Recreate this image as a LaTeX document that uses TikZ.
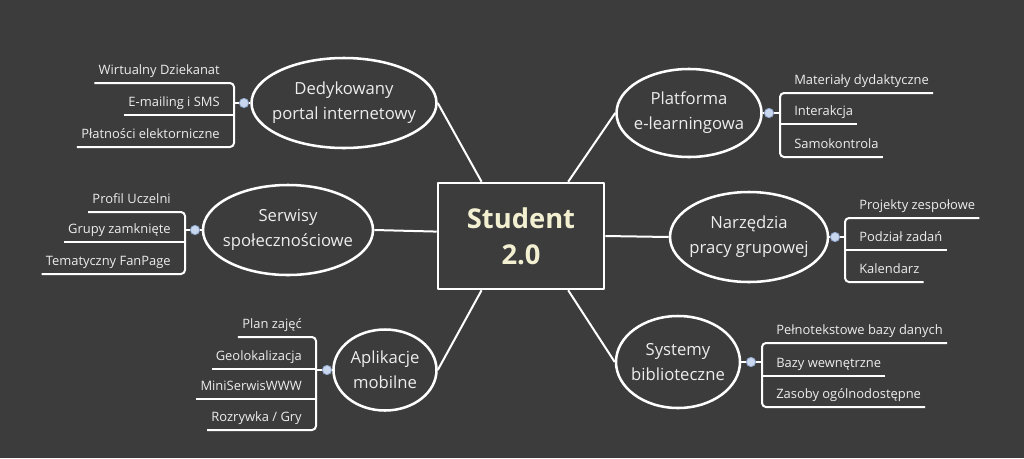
\documentclass[tikz,border=0pt]{standalone}
\usepackage{fontspec}
\setmainfont{Open Sans}
\usetikzlibrary{shapes.geometric}
\definecolor{bgdark}{HTML}{3C3C3C}
\definecolor{fgtext}{HTML}{EDEDED}
\definecolor{cream}{HTML}{F3F0D2}
\definecolor{knobfill}{HTML}{C9D7EE}
\definecolor{knobedge}{HTML}{8FA6CC}
\begin{document}
\begin{tikzpicture}[x=0.75pt, y=-0.75pt, line join=round,
    topic/.style={ellipse, draw=white, line width=1.9pt, inner xsep=-40pt, inner ysep=-20pt, text=fgtext, align=center, font=\fontsize{12.5}{18.75}\selectfont},
    leaf/.style={inner xsep=3pt, inner ysep=0pt, text=fgtext, text depth=6.4pt, font=\fontsize{9.7}{11}\selectfont},
    link/.style={draw=white, line width=1.5pt},
    branch/.style={draw=white, line width=1.5pt, rounded corners=3pt},
    knob/.style={circle, fill=knobfill, draw=knobedge, line width=0.6pt, minimum size=7pt, inner sep=0pt}]
    \fill[bgdark] (0,0) rectangle (1024,458);

    % Centrum
    \node[draw=white, line width=1.9pt, minimum width=124.5pt, minimum height=79.5pt, text=cream, align=center, font=\bfseries\fontsize{20.5}{27}\selectfont] (student) at (521,236) {Student\\2.0};

    % Tematy
    \node[topic, minimum width=138.75pt, minimum height=67.5pt] (ded) at (344,103) {Dedykowany\\portal internetowy};
    \node[topic, minimum width=127.5pt, minimum height=67.5pt] (ser) at (288,230) {Serwisy\\społecznościowe};
    \node[topic, minimum width=77.25pt, minimum height=60.75pt] (apl) at (385,370) {Aplikacje\\mobilne};
    \node[topic, minimum width=108.75pt, minimum height=66pt] (pla) at (689,113) {Platforma\\e-learningowa};
    \node[topic, minimum width=118.5pt, minimum height=67.5pt] (nar) at (749,237) {Narzędzia\\pracy grupowej};
    \node[topic, minimum width=93pt, minimum height=69pt] (sys) at (678,362) {Systemy\\biblioteczne};

    \draw[link] (ded.east) -- (student.126);
    \draw[link] (ser.east) -- (student.177);
    \draw[link] (apl.east) -- (student.234);
    \draw[link] (pla.west) -- (student.49);
    \draw[link] (nar.west) -- (student.east);
    \draw[link] (sys.west) -- (student.311);

    % Dedykowany portal
    \coordinate (dedbar) at (234,103);
    \node[knob] (dedknob) at (244,103) {};
    \node[leaf, anchor=south east] (ded1) at (224,83) {Wirtualny Dziekanat};
    \node[leaf, anchor=south east] (ded2) at (224,115) {E-mailing i SMS};
    \node[leaf, anchor=south east] (ded3) at (224,147) {Płatności elektorniczne};
    \draw[branch] (ded1.south west) -- (ded1.south -| dedbar) -- (ded3.south -| dedbar) -- (ded3.south west);
    \draw[branch] (ded2.south west) -- (ded2.south -| dedbar);
    \draw[link] (dedknob.west) -- (dedbar);
    \draw[link] (dedknob.east) -- (ded.west);

    % Serwisy
    \coordinate (serbar) at (185,230);
    \node[knob] (serknob) at (195,230) {};
    \node[leaf, anchor=south east] (ser1) at (175,212) {Profil Uczelni};
    \node[leaf, anchor=south east] (ser2) at (175,242) {Grupy zamknięte};
    \node[leaf, anchor=south east] (ser3) at (175,274) {Tematyczny FanPage};
    \draw[branch] (ser1.south west) -- (ser1.south -| serbar) -- (ser3.south -| serbar) -- (ser3.south west);
    \draw[branch] (ser2.south west) -- (ser2.south -| serbar);
    \draw[link] (serknob.west) -- (serbar);
    \draw[link] (serknob.east) -- (ser.west);

    % Aplikacje
    \coordinate (aplbar) at (316,370);
    \node[knob] (aplknob) at (327,370) {};
    \node[leaf, anchor=south east] (apl1) at (306,337) {Plan zajęć};
    \node[leaf, anchor=south east] (apl2) at (306,369) {Geolokalizacja};
    \node[leaf, anchor=south east] (apl3) at (306,399) {MiniSerwisWWW};
    \node[leaf, anchor=south east] (apl4) at (306,430) {Rozrywka / Gry};
    \draw[branch] (apl1.south west) -- (apl1.south -| aplbar) -- (apl4.south -| aplbar) -- (apl4.south west);
    \draw[branch] (apl2.south west) -- (apl2.south -| aplbar);
    \draw[branch] (apl3.south west) -- (apl3.south -| aplbar);
    \draw[link] (aplknob.west) -- (aplbar);
    \draw[link] (aplknob.east) -- (apl.west);

    % Platforma
    \coordinate (plabar) at (780,113);
    \node[knob] (plaknob) at (769,113) {};
    \node[leaf, anchor=south west] (pla1) at (790,93) {Materiały dydaktyczne};
    \node[leaf, anchor=south west] (pla2) at (790,124) {Interakcja};
    \node[leaf, anchor=south west] (pla3) at (790,157) {Samokontrola};
    \draw[branch] (pla1.south east) -- (pla1.south -| plabar) -- (pla3.south -| plabar) -- (pla3.south east);
    \draw[branch] (pla2.south east) -- (pla2.south -| plabar);
    \draw[link] (plaknob.east) -- (plabar);
    \draw[link] (plaknob.west) -- (pla.east);

    % Narzedzia
    \coordinate (narbar) at (845,237);
    \node[knob] (narknob) at (835,237) {};
    \node[leaf, anchor=south west] (nar1) at (855,218) {Projekty zespołowe};
    \node[leaf, anchor=south west] (nar2) at (855,250) {Podział zadań};
    \node[leaf, anchor=south west] (nar3) at (855,282) {Kalendarz};
    \draw[branch] (nar1.south east) -- (nar1.south -| narbar) -- (nar3.south -| narbar) -- (nar3.south east);
    \draw[branch] (nar2.south east) -- (nar2.south -| narbar);
    \draw[link] (narknob.east) -- (narbar);
    \draw[link] (narknob.west) -- (nar.east);

    % Systemy
    \coordinate (sysbar) at (762,362);
    \node[knob] (sysknob) at (751,362) {};
    \node[leaf, anchor=south west] (sys1) at (772,343) {Pełnotekstowe bazy danych};
    \node[leaf, anchor=south west] (sys2) at (772,376) {Bazy wewnętrzne};
    \node[leaf, anchor=south west] (sys3) at (772,407) {Zasoby ogólnodostępne};
    \draw[branch] (sys1.south east) -- (sys1.south -| sysbar) -- (sys3.south -| sysbar) -- (sys3.south east);
    \draw[branch] (sys2.south east) -- (sys2.south -| sysbar);
    \draw[link] (sysknob.east) -- (sysbar);
    \draw[link] (sysknob.west) -- (sys.east);
\end{tikzpicture}
\end{document}
